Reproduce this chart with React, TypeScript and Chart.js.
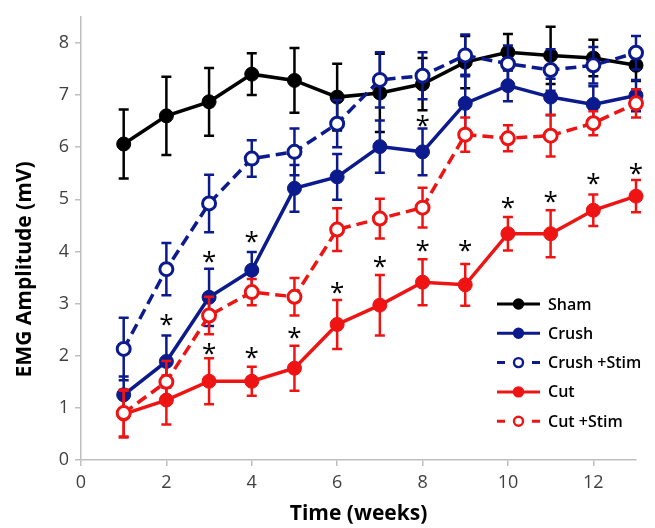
import React, { useEffect, useRef } from "react";
import { Chart, registerables } from "chart.js";

Chart.register(...registerables);

// ---------- data ----------
const weeks = [1, 2, 3, 4, 5, 6, 7, 8, 9, 10, 11, 12, 13];

const sham = [6.06, 6.6, 6.87, 7.4, 7.28, 6.96, 7.04, 7.21, 7.63, 7.82, 7.76, 7.71, 7.57];
const shamErr = [0.66, 0.75, 0.65, 0.4, 0.62, 0.64, 0.75, 0.5, 0.5, 0.35, 0.55, 0.35, 0.3];

const crush = [1.25, 1.89, 3.12, 3.64, 5.21, 5.43, 6.01, 5.91, 6.84, 7.18, 6.96, 6.82, 6.99];
const crushErr = [0.35, 0.5, 0.55, 0.35, 0.45, 0.44, 0.5, 0.45, 0.55, 0.3, 0.35, 0.35, 0.3];

const crushStim = [2.13, 3.66, 4.92, 5.78, 5.91, 6.45, 7.29, 7.37, 7.76, 7.6, 7.48, 7.57, 7.81];
const crushStimErr = [0.6, 0.5, 0.55, 0.35, 0.45, 0.45, 0.53, 0.45, 0.4, 0.35, 0.4, 0.35, 0.32];

const cut = [0.88, 1.15, 1.51, 1.51, 1.76, 2.6, 2.97, 3.41, 3.36, 4.34, 4.34, 4.79, 5.06];
const cutErr = [0.45, 0.47, 0.44, 0.28, 0.43, 0.47, 0.58, 0.44, 0.4, 0.32, 0.45, 0.3, 0.31];

const cutStim = [0.9, 1.5, 2.77, 3.22, 3.13, 4.42, 4.63, 4.84, 6.24, 6.17, 6.22, 6.46, 6.84];
const cutStimErr = [0.45, 0.4, 0.36, 0.25, 0.36, 0.41, 0.38, 0.38, 0.33, 0.25, 0.4, 0.23, 0.27];

// significance asterisks (week, amplitude)
const starWeeks = [2, 3, 3, 4, 4, 5, 6, 7, 8, 8, 9, 10, 11, 12, 13];
const starValues = [2.68, 3.89, 2.13, 4.27, 2.06, 2.43, 3.3, 3.8, 6.51, 4.1, 4.1, 4.92, 5.05, 5.39, 5.59];

const seriesLabels = ["Sham", "Crush", "Crush +Stim", "Cut", "Cut +Stim"];
const xTickValues = [0, 2, 4, 6, 8, 10, 12];
const yTickValues = [0, 1, 2, 3, 4, 5, 6, 7, 8];

const xTitle = "Time (weeks)";
const yTitle = "EMG Amplitude (mV)";

// ---------- styles ----------
const BLACK = "#000000";
const NAVY = "#0b1a8c";
const RED = "#ee1414";
const DASH = [11, 6];
const FONT = "'Open Sans', 'Liberation Sans', sans-serif";

type Series = {
  label: string;
  values: number[];
  errors: number[];
  color: string;
  open: boolean;
  order: number;
};

const series: Series[] = [
  { label: seriesLabels[0], values: sham, errors: shamErr, color: BLACK, open: false, order: 5 },
  { label: seriesLabels[1], values: crush, errors: crushErr, color: NAVY, open: false, order: 4 },
  { label: seriesLabels[2], values: crushStim, errors: crushStimErr, color: NAVY, open: true, order: 3 },
  { label: seriesLabels[3], values: cut, errors: cutErr, color: RED, open: false, order: 2 },
  { label: seriesLabels[4], values: cutStim, errors: cutStimErr, color: RED, open: true, order: 1 },
];

const overlayPlugin = {
  id: "overlay",
  beforeDatasetDraw(chart: any, args: any) {
    const ds = chart.data.datasets[args.index];
    const errs: number[] = ds.errors;
    if (!errs) return;
    const xs = chart.scales.x;
    const ys = chart.scales.y;
    const ctx = chart.ctx;
    ctx.save();
    ctx.strokeStyle = ds.borderColor;
    ctx.lineWidth = 2.5;
    ctx.setLineDash([]);
    ds.data.forEach((p: any, i: number) => {
      const x = xs.getPixelForValue(p.x);
      const yt = ys.getPixelForValue(p.y + errs[i]);
      const yb = ys.getPixelForValue(p.y - errs[i]);
      ctx.beginPath();
      ctx.moveTo(x, yt);
      ctx.lineTo(x, yb);
      ctx.moveTo(x - 5, yt);
      ctx.lineTo(x + 5, yt);
      ctx.moveTo(x - 5, yb);
      ctx.lineTo(x + 5, yb);
      ctx.stroke();
    });
    ctx.restore();
  },
  afterDraw(chart: any) {
    const ctx = chart.ctx;
    const xs = chart.scales.x;
    const ys = chart.scales.y;
    const area = chart.chartArea;

    // asterisks
    ctx.save();
    ctx.fillStyle = "#000";
    ctx.font = `26px ${FONT}`;
    ctx.textAlign = "center";
    ctx.textBaseline = "alphabetic";
    const m = ctx.measureText("*");
    const mid = (m.actualBoundingBoxAscent - m.actualBoundingBoxDescent) / 2;
    starWeeks.forEach((w, i) => {
      const x = xs.getPixelForValue(w);
      const y = ys.getPixelForValue(starValues[i]);
      ctx.fillText("*", x, y + mid);
    });
    ctx.restore();

    // legend
    ctx.save();
    const lx0 = 497;
    const lx1 = 540;
    const ly0 = 304;
    const step = 29.3;
    chart.data.datasets.forEach((ds: any, i: number) => {
      const y = ly0 + i * step;
      const cx = (lx0 + lx1) / 2;
      ctx.strokeStyle = ds.borderColor;
      ctx.lineWidth = 3;
      ctx.setLineDash([]);
      ctx.beginPath();
      if (ds.borderDash && ds.borderDash.length) {
        ctx.moveTo(lx0, y);
        ctx.lineTo(lx0 + 8, y);
        ctx.moveTo(lx1 - 8, y);
        ctx.lineTo(lx1, y);
      } else {
        ctx.moveTo(lx0, y);
        ctx.lineTo(lx1, y);
      }
      ctx.stroke();
      ctx.beginPath();
      ctx.arc(cx, y, 4.5, 0, Math.PI * 2);
      ctx.fillStyle = ds.pointBackgroundColor;
      ctx.fill();
      ctx.lineWidth = 2.4;
      ctx.strokeStyle = ds.borderColor;
      ctx.stroke();
      ctx.fillStyle = "#000";
      ctx.font = `600 16px ${FONT}`;
      ctx.textAlign = "left";
      ctx.textBaseline = "middle";
      ctx.fillText(ds.label, 548, y + 1);
    });
    ctx.restore();

    // axis titles
    ctx.save();
    ctx.fillStyle = "#000";
    ctx.font = `bold 21px ${FONT}`;
    ctx.textAlign = "center";
    ctx.textBaseline = "middle";
    ctx.fillText(xTitle, (area.left + area.right) / 2, 514);
    ctx.translate(25, (area.top + area.bottom) / 2 + 31);
    ctx.rotate(-Math.PI / 2);
    ctx.fillText(yTitle, 0, 0);
    ctx.restore();
  },
};

export default function App() {
  const ref = useRef<HTMLCanvasElement | null>(null);

  useEffect(() => {
    if (!ref.current) return;
    const datasets = series.map((s) => ({
      label: s.label,
      data: weeks.map((w, i) => ({ x: w, y: s.values[i] })),
      errors: s.errors,
      borderColor: s.color,
      backgroundColor: s.color,
      borderWidth: 3.5,
      borderDash: s.open ? DASH : [],
      pointRadius: s.open ? 6.5 : 7,
      pointBorderWidth: s.open ? 3 : 1,
      pointBackgroundColor: s.open ? "#ffffff" : s.color,
      pointBorderColor: s.color,
      tension: 0,
      order: s.order,
      clip: false as any,
    }));

    const chart = new Chart(ref.current, {
      type: "line",
      data: { datasets } as any,
      options: {
        animation: false,
        responsive: false,
        devicePixelRatio: 1,
        layout: { padding: { left: 0, top: 7, right: 19, bottom: 0 } },
        plugins: {
          legend: { display: false },
          tooltip: { enabled: false },
        },
        scales: {
          x: {
            type: "linear",
            min: 0,
            max: 13,
            afterBuildTicks: (scale: any) => {
              scale.ticks = xTickValues.map((v) => ({ value: v }));
            },
            afterFit: (scale: any) => {
              scale.height = 68;
            },
            grid: {
              drawOnChartArea: false,
              drawTicks: true,
              tickLength: 6,
              color: "#bfbfbf",
              lineWidth: 1.5,
            },
            border: { display: true, color: "#bfbfbf", width: 1.5 },
            ticks: {
              color: "#404040",
              font: { family: FONT, size: 18 },
              padding: 6,
              maxRotation: 0,
            },
          },
          y: {
            type: "linear",
            min: 0,
            max: 8.5,
            afterBuildTicks: (scale: any) => {
              scale.ticks = yTickValues.map((v) => ({ value: v }));
            },
            afterFit: (scale: any) => {
              scale.width = 81;
            },
            grid: {
              drawOnChartArea: false,
              drawTicks: true,
              tickLength: 6,
              color: "#bfbfbf",
              lineWidth: 1.5,
            },
            border: { display: true, color: "#bfbfbf", width: 1.5 },
            ticks: {
              color: "#404040",
              font: { family: FONT, size: 18 },
              padding: 6,
            },
          },
        },
      } as any,
      plugins: [overlayPlugin],
    });
    return () => chart.destroy();
  }, []);

  return (
    <div style={{ position: "absolute", left: 0, top: 0, width: 655, height: 528, background: "#fff" }}>
      <canvas ref={ref} width={655} height={528} style={{ display: "block" }} />
    </div>
  );
}
